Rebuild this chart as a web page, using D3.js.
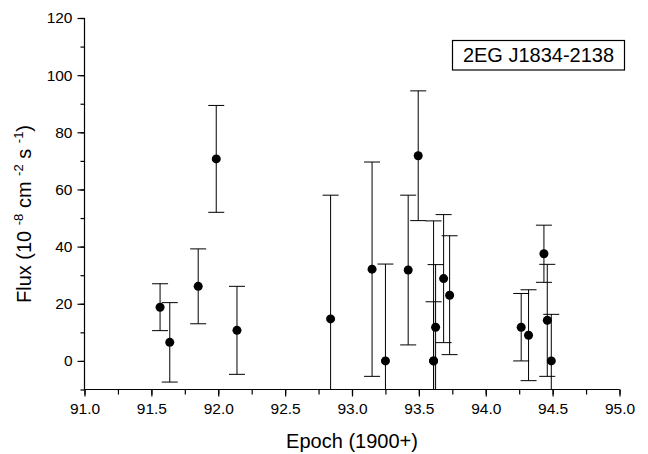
<!DOCTYPE html>
<html>
<head>
<meta charset="utf-8">
<script src="https://cdn.jsdelivr.net/npm/d3@7"></script>
<style>
  html, body { margin: 0; padding: 0; background: #fff; }
  svg { display: block; font-family: Arial, "Liberation Sans", Helvetica, sans-serif; }
</style>
</head>
<body>
<svg id="chart" width="648" height="454"></svg>
<script>
// ---- data ----
const epochs = [91.565, 91.6375, 91.85, 91.985, 92.14, 92.84, 93.15, 93.25, 93.42, 93.495,
                93.61, 93.61, 93.625, 93.685, 93.73, 94.265, 94.32, 94.435, 94.46, 94.49];
const flux   = [18.8, 6.5, 26.1, 70.7, 10.7, 14.7, 32.1, 0, 31.8, 71.8,
                0, 0, 11.8, 28.8, 23.0, 11.8, 9.0, 37.5, 14.2, 0];
const fluxErr = [8.2, 13.9, 13.1, 18.7, 15.4, 43.3, 37.5, 33.9, 26.2, 22.7,
                 49.0, 20.7, 21.9, 22.4, 20.8, 11.8, 15.9, 10.0, 19.6, 16.3];
const xTicks = [91.0, 91.5, 92.0, 92.5, 93.0, 93.5, 94.0, 94.5, 95.0];
const yTicks = [0, 20, 40, 60, 80, 100, 120];
const sourceName = "2EG J1834-2138";

const svg = d3.select("#chart");
const W = 648, H = 454;
const margin = {left: 84.5, top: 18, right: 28.5, bottom: 64.5};
const x = d3.scaleLinear().domain([91, 95]).range([margin.left, W - margin.right]);
const y = d3.scaleLinear().domain([-10, 120]).range([H - margin.bottom, margin.top]);

const points = epochs.map((e, i) => ({x: e, y: flux[i], err: fluxErr[i]}));

svg.append("defs").append("clipPath").attr("id", "plotClip")
  .append("rect")
  .attr("x", margin.left).attr("y", margin.top - 10)
  .attr("width", W - margin.left - margin.right + 10)
  .attr("height", (H - margin.bottom) - margin.top + 10);

const g = svg.append("g").attr("clip-path", "url(#plotClip)");
const capW = 8;

// error bars
const eb = g.selectAll("g.eb").data(points).join("g").attr("class", "eb")
  .attr("stroke", "#000").attr("stroke-width", 1).attr("fill", "none");
eb.append("line")
  .attr("x1", d => x(d.x)).attr("x2", d => x(d.x))
  .attr("y1", d => y(d.y + d.err)).attr("y2", d => y(d.y - d.err));
eb.append("line")
  .attr("x1", d => x(d.x) - capW).attr("x2", d => x(d.x) + capW)
  .attr("y1", d => y(d.y + d.err)).attr("y2", d => y(d.y + d.err));
eb.append("line")
  .attr("x1", d => x(d.x) - capW).attr("x2", d => x(d.x) + capW)
  .attr("y1", d => y(d.y - d.err)).attr("y2", d => y(d.y - d.err));

// dots
g.selectAll("circle.pt").data(points).join("circle").attr("class", "pt")
  .attr("cx", d => x(d.x)).attr("cy", d => y(d.y)).attr("r", 4.5).attr("fill", "#000");

// x axis
const xMinor = d3.range(91, 95.001, 0.25);
const xAxis = svg.append("g").attr("transform", `translate(0,${H - margin.bottom})`);
xAxis.call(d3.axisBottom(x).tickValues(xMinor).tickSize(5).tickFormat(""));
xAxis.call(g2 => g2.select(".domain").remove());
const xMaj = svg.append("g").attr("transform", `translate(0,${H - margin.bottom})`)
  .call(d3.axisBottom(x).tickValues(xTicks).tickSize(7).tickPadding(6).tickFormat(d3.format(".1f")));
xMaj.select(".domain").attr("d", `M${x(91)},0H${x(95)}`);
xMaj.selectAll("text").attr("font-size", "15.5px").attr("fill", "#000")
  .attr("font-family", "Arial, 'Liberation Sans', sans-serif");

// y axis
const yMinor = d3.range(-10, 120.001, 10);
const yAxisMinor = svg.append("g").attr("transform", `translate(${margin.left},0)`)
  .call(d3.axisLeft(y).tickValues(yMinor).tickSize(4).tickFormat(""));
yAxisMinor.select(".domain").remove();
const yMaj = svg.append("g").attr("transform", `translate(${margin.left},0)`)
  .call(d3.axisLeft(y).tickValues(yTicks).tickSize(7).tickPadding(5));
yMaj.select(".domain").attr("d", `M0,${y(-10)}V${y(120)}`);
yMaj.selectAll("text").attr("font-size", "15.5px").attr("fill", "#000")
  .attr("font-family", "Arial, 'Liberation Sans', sans-serif");

svg.selectAll(".tick line, .domain").attr("stroke", "#000").attr("stroke-width", 1.2);

// axis titles
svg.append("text")
  .attr("x", (x(91) + x(95)) / 2).attr("y", 448)
  .attr("text-anchor", "middle").attr("font-size", "20px").attr("fill", "#000")
  .text("Epoch (1900+)");

const yt = svg.append("text")
  .attr("transform", `translate(31,${214}) rotate(-90)`)
  .attr("text-anchor", "middle").attr("font-size", "20px").attr("fill", "#000");
yt.append("tspan").text("Flux (10 ");
yt.append("tspan").attr("font-size", "13px").attr("dy", -8).text("-8");
yt.append("tspan").attr("dy", 8).text(" cm ");
yt.append("tspan").attr("font-size", "13px").attr("dy", -8).text("-2");
yt.append("tspan").attr("dy", 8).text(" s ");
yt.append("tspan").attr("font-size", "13px").attr("dy", -8).text("-1");
yt.append("tspan").attr("dy", 8).text(")");

// legend box
const lg = svg.append("g");
lg.append("rect").attr("x", 452.5).attr("y", 40.5).attr("width", 172).attr("height", 29.5)
  .attr("fill", "#fff").attr("stroke", "#000").attr("stroke-width", 1.2);
lg.append("text").attr("x", 538.5).attr("y", 62).attr("text-anchor", "middle")
  .attr("font-size", "20px").attr("fill", "#000").text(sourceName);
</script>
</body>
</html>
